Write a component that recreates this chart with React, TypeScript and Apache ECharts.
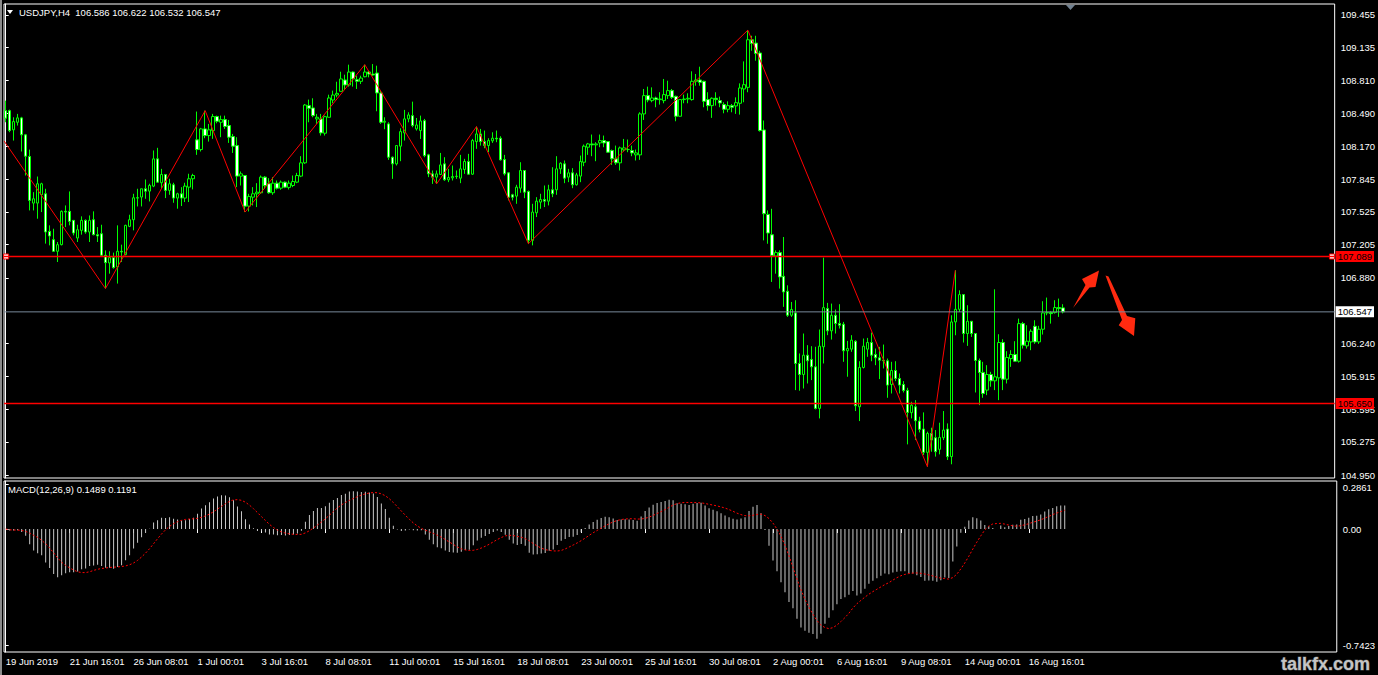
import React, { useEffect, useRef } from "react";
import * as echarts from "echarts";

// ---------- DATA (USDJPY H4) ----------
const opens = [
  108.517,108.517,108.329,108.403,108.446,108.280,108.068,107.612,107.612,107.693,
  107.703,107.335,107.254,107.140,107.205,107.531,107.531,107.443,107.270,107.345,
  107.443,107.329,107.449,107.303,107.312,107.101,107.026,107.078,106.987,107.140,
  107.107,107.384,107.449,107.664,107.671,107.752,107.729,107.778,108.045,107.811,
  107.892,107.736,107.791,107.661,107.703,107.661,107.768,107.850,108.231,108.136,
  108.338,108.273,108.322,108.459,108.403,108.429,108.371,108.263,108.175,107.876,
  107.882,107.582,107.670,107.703,107.713,107.866,107.801,107.713,107.807,107.758,
  107.817,107.765,107.784,107.817,107.876,108.006,108.566,108.543,108.436,108.436,
  108.296,108.452,108.621,108.670,108.706,108.817,108.768,108.895,108.820,108.804,
  108.849,108.895,108.875,108.885,108.690,108.403,108.387,108.061,107.996,108.169,
  108.299,108.436,108.468,108.338,108.322,108.419,108.084,107.898,107.866,107.892,
  107.996,107.840,107.859,107.872,107.856,107.941,108.019,107.895,108.214,108.289,
  108.214,108.175,108.221,108.247,108.247,108.038,107.908,107.693,107.680,107.758,
  107.931,107.726,107.247,107.517,107.621,107.647,107.631,107.742,107.742,107.947,
  107.996,107.866,107.908,107.791,107.876,108.012,108.159,108.191,108.182,108.201,
  108.224,108.214,108.126,108.045,108.006,108.133,108.136,108.126,108.084,108.084,
  108.485,108.664,108.615,108.641,108.625,108.615,108.664,108.713,108.657,108.462,
  108.625,108.631,108.625,108.804,108.817,108.804,108.625,108.566,108.638,108.615,
  108.576,108.530,108.566,108.563,108.589,108.729,108.745,109.211,109.178,109.081,
  108.328,107.501,107.302,107.094,107.127,106.895,106.749,106.514,106.537,106.042,
  105.934,106.123,106.081,106.009,105.602,106.205,106.579,106.361,106.514,106.433,
  106.426,106.166,106.182,106.260,105.618,106.003,106.182,106.247,106.130,106.097,
  106.074,106.068,105.836,105.973,105.895,105.836,105.778,105.560,105.618,105.478,
  105.400,105.172,105.357,105.315,105.201,105.315,105.400,105.130,106.449,106.572,
  106.716,106.335,106.455,106.335,106.071,105.954,105.781,105.934,105.872,105.901,
  106.247,105.888,106.090,106.130,106.064,106.432,106.214,106.253,106.406,106.253,
  106.377,106.537,106.540,106.540,106.589,106.586,
];
const highs = [
  108.615,108.527,108.452,108.485,108.456,108.289,108.136,107.719,107.872,107.811,
  107.752,107.394,107.361,107.231,107.540,107.589,107.726,107.443,107.400,107.482,
  107.452,107.491,107.531,107.377,107.400,107.149,107.140,107.127,107.394,107.205,
  107.400,107.498,107.703,107.752,107.752,107.843,107.801,108.127,108.153,107.947,
  107.892,107.850,107.811,107.713,107.768,107.811,107.899,107.899,108.508,108.348,
  108.517,108.387,108.485,108.468,108.468,108.468,108.426,108.289,108.257,107.921,
  107.882,107.703,107.768,107.807,107.882,107.876,107.856,107.866,107.833,107.833,
  107.823,107.833,107.882,107.908,108.071,108.582,108.625,108.638,108.485,108.485,
  108.468,108.673,108.713,108.800,108.898,108.869,108.967,108.901,108.859,108.859,
  108.967,108.908,108.973,108.957,108.713,108.452,108.403,108.068,108.175,108.344,
  108.524,108.501,108.605,108.445,108.468,108.436,108.094,107.931,107.931,108.103,
  108.061,107.947,107.980,107.931,108.084,108.045,108.094,108.240,108.361,108.338,
  108.322,108.247,108.305,108.322,108.266,108.084,107.915,107.703,107.791,108.012,
  107.931,107.735,107.605,107.670,107.703,107.784,107.791,107.963,108.071,108.012,
  108.029,107.947,107.954,107.908,108.077,108.185,108.201,108.283,108.208,108.283,
  108.273,108.214,108.136,108.175,108.165,108.240,108.234,108.175,108.136,108.501,
  108.729,108.752,108.745,108.654,108.697,108.827,108.810,108.729,108.664,108.625,
  108.674,108.687,108.902,108.876,108.947,108.810,108.697,108.647,108.697,108.654,
  108.599,108.608,108.582,108.647,108.784,108.999,109.305,109.250,109.250,109.103,
  108.420,107.540,107.556,107.149,107.149,107.280,106.807,106.644,106.661,106.140,
  106.335,106.221,106.211,106.205,106.374,107.078,106.635,106.628,106.570,106.622,
  106.449,106.263,106.319,106.270,106.064,106.286,106.292,106.344,106.188,106.204,
  106.227,106.090,106.058,106.064,105.944,105.869,105.804,105.667,105.683,105.520,
  105.563,105.374,105.413,105.390,105.462,105.576,105.455,106.514,106.954,106.758,
  106.716,106.612,106.455,106.335,106.090,106.058,106.025,105.960,106.768,106.328,
  106.279,106.162,106.172,106.260,106.481,106.449,106.416,106.377,106.465,106.410,
  106.651,106.687,106.553,106.661,106.677,106.622,
];
const lows = [
  108.403,108.306,108.224,108.371,108.117,107.882,107.540,107.540,107.459,107.524,
  107.215,107.198,107.133,107.035,107.198,107.377,107.394,107.296,107.231,107.303,
  107.312,107.231,107.296,107.231,107.084,106.775,106.921,106.970,106.824,107.035,
  107.101,107.377,107.345,107.579,107.579,107.654,107.628,107.768,107.811,107.759,
  107.661,107.693,107.615,107.557,107.583,107.622,107.622,107.746,108.084,108.117,
  108.247,108.214,108.241,108.393,108.257,108.338,108.201,108.103,107.768,107.784,
  107.524,107.530,107.589,107.573,107.703,107.752,107.703,107.693,107.745,107.742,
  107.758,107.745,107.768,107.807,107.866,107.996,108.403,108.452,108.387,108.273,
  108.273,108.452,108.589,108.647,108.706,108.719,108.752,108.752,108.729,108.778,
  108.843,108.843,108.859,108.511,108.387,108.335,108.035,107.849,107.980,108.022,
  108.224,108.403,108.354,108.322,108.240,108.061,107.866,107.800,107.800,107.888,
  107.830,107.817,107.833,107.849,107.807,107.898,107.888,107.888,108.143,108.175,
  108.149,108.110,108.201,108.208,108.029,107.882,107.638,107.638,107.605,107.713,
  107.660,107.214,107.198,107.475,107.556,107.573,107.589,107.670,107.693,107.898,
  107.807,107.817,107.758,107.784,107.817,107.973,108.084,108.071,108.022,108.159,
  108.159,108.103,107.986,107.986,107.931,108.117,108.110,108.071,108.029,108.035,
  108.426,108.599,108.599,108.550,108.576,108.589,108.631,108.631,108.413,108.459,
  108.589,108.589,108.615,108.761,108.761,108.550,108.517,108.446,108.566,108.550,
  108.491,108.501,108.501,108.485,108.478,108.599,108.697,109.103,109.006,108.312,
  107.247,107.214,106.840,106.921,106.775,106.596,106.498,106.498,105.781,105.775,
  105.797,105.846,105.879,105.592,105.504,106.042,106.319,106.276,106.335,106.384,
  106.058,105.912,106.156,105.576,105.478,105.993,106.107,106.064,106.025,105.889,
  105.993,105.706,105.748,105.869,105.748,105.758,105.250,105.504,105.292,105.367,
  105.146,105.032,105.178,105.130,105.152,105.292,105.097,105.055,106.318,106.546,
  106.247,106.214,106.302,105.758,105.634,105.706,105.732,105.814,105.781,105.683,
  105.781,105.846,106.009,106.058,106.051,106.188,106.188,106.172,106.234,106.234,
  106.325,106.514,106.432,106.530,106.498,106.532,
];
const closes = [
  108.443,108.322,108.410,108.446,108.280,108.071,107.638,107.654,107.801,107.801,
  107.329,107.290,107.140,107.205,107.531,107.524,107.433,107.319,107.351,107.443,
  107.329,107.443,107.303,107.290,107.101,107.029,107.078,106.980,107.140,107.133,
  107.394,107.449,107.664,107.661,107.752,107.729,107.785,108.045,107.817,107.892,
  107.736,107.801,107.661,107.703,107.661,107.778,107.850,107.882,108.136,108.338,
  108.273,108.329,108.459,108.413,108.429,108.361,108.257,108.169,107.876,107.898,
  107.582,107.677,107.703,107.719,107.866,107.784,107.713,107.807,107.758,107.817,
  107.768,107.807,107.823,107.882,108.006,108.572,108.540,108.468,108.452,108.299,
  108.458,108.641,108.670,108.686,108.827,108.768,108.895,108.827,108.804,108.836,
  108.895,108.875,108.866,108.690,108.403,108.413,108.061,107.996,108.175,108.312,
  108.436,108.475,108.371,108.377,108.416,108.077,107.898,107.866,107.898,107.986,
  107.840,107.862,107.872,107.875,107.947,108.019,107.895,108.224,108.289,108.214,
  108.175,108.224,108.247,108.240,108.035,107.898,107.670,107.670,107.768,107.931,
  107.719,107.247,107.524,107.631,107.647,107.631,107.742,107.703,107.947,108.002,
  107.856,107.908,107.791,107.888,108.019,108.169,108.191,108.182,108.191,108.224,
  108.201,108.110,108.045,108.006,108.152,108.152,108.136,108.103,108.103,108.485,
  108.664,108.621,108.641,108.625,108.631,108.674,108.713,108.647,108.462,108.625,
  108.631,108.638,108.804,108.817,108.794,108.608,108.566,108.638,108.625,108.592,
  108.530,108.566,108.550,108.595,108.739,108.771,109.211,109.175,109.077,108.322,
  107.508,107.319,107.100,107.127,106.889,106.742,106.514,106.570,106.042,105.934,
  106.123,106.068,106.009,105.602,106.211,106.589,106.361,106.514,106.433,106.416,
  106.166,106.188,106.270,105.628,106.003,106.211,106.247,106.123,106.097,106.074,
  106.068,105.830,105.973,105.895,105.830,105.778,105.563,105.634,105.481,105.397,
  105.172,105.357,105.292,105.178,105.318,105.390,105.130,106.449,106.572,106.716,
  106.335,106.455,106.335,106.071,105.954,105.748,105.934,105.872,105.911,106.247,
  105.888,106.100,106.130,106.064,106.432,106.221,106.260,106.357,106.253,106.377,
  106.537,106.540,106.530,106.589,106.579,106.547,
];

// ZigZag pivots (bar index + whether it is a high or a low); first point is the leg entering from the left
const zigzagStart = [-0.4, 108.22];
const zigzagBars = [25, 50, 60, 90, 108, 118, 131, 186, 231, 238];
const zigzagKinds = ["L", "H", "L", "H", "L", "H", "L", "H", "L", "H"];

// Horizontal levels
const resistanceLevel = 107.089;
const supportLevel = 105.650;
const bidPrice = 106.547;

// Axis tick labels (the 106.560 label is hidden under the bid box in the reference)
const priceTicks = [104.950, 105.275, 105.595, 105.915, 106.240, 106.880, 107.205, 107.525, 107.845, 108.170, 108.490, 108.810, 109.135, 109.455];
const macdTicks = [0.2861, 0, -0.7423];
const macdTickLabels = ["0.2861", "0.00", "-0.7423"];
const xTickBars = [0, 16, 32, 48, 64, 80, 96, 112, 128, 144, 160, 176, 192, 208, 224, 240, 256];
const xTickLabels = [
  "19 Jun 2019", "21 Jun 16:01", "26 Jun 08:01", "1 Jul 00:01", "3 Jul 16:01", "8 Jul 08:01",
  "11 Jul 00:01", "15 Jul 16:01", "18 Jul 08:01", "23 Jul 00:01", "25 Jul 16:01", "30 Jul 08:01",
  "2 Aug 00:01", "6 Aug 16:01", "9 Aug 08:01", "14 Aug 00:01", "16 Aug 16:01",
];
const symbolName = "USDJPY,H4";
const macdHeader = "MACD(12,26,9) 0.1489 0.1191";

// ---------- MACD(12,26,9) indicator computed from the closes ----------
function ema(src: number[], period: number): number[] {
  const k = 2 / (period + 1);
  const out: number[] = [];
  src.forEach((v, i) => out.push(i === 0 ? v : v * k + out[i - 1] * (1 - k)));
  return out;
}
const ema12 = ema(closes, 12);
const ema26 = ema(closes, 26);
const macdMain = closes.map((_, i) => ema12[i] - ema26[i]);
const macdSignal = macdMain.map((_, i) => {
  const w = macdMain.slice(Math.max(0, i - 8), i + 1);
  return w.reduce((a, b) => a + b, 0) / w.length;
});

const FONT = '"Liberation Sans", Arial, sans-serif';
const FS = 9.5;

export default function App() {
  const ref = useRef<HTMLDivElement>(null);
  useEffect(() => {
    const el = ref.current;
    if (!el) return;
    const chart = echarts.init(el, null, { renderer: "svg" });

    const candleData = closes.map((c, i) => [i, opens[i], c, lows[i], highs[i]]);
    const zigzagData = [zigzagStart].concat(
      zigzagBars.map((b, k) => [b, zigzagKinds[k] === "H" ? highs[b] : lows[b]])
    );
    const last = closes.length - 1;
    const header = `${symbolName}  ${opens[last].toFixed(3)} ${highs[last].toFixed(3)} ${lows[last].toFixed(3)} ${closes[last].toFixed(3)}`;

    const nearestIdx = (arr: number[], v: number) => {
      let best = 0;
      arr.forEach((a, i) => { if (Math.abs(a - v) < Math.abs(arr[best] - v)) best = i; });
      return best;
    };

    const X_MIN = -0.425, X_MAX = 333.075;

    const levelSeries = (value: number, lineColor: string, lineWidth: number, boxColor: string, textColor: string, handles: boolean) => ({
      type: "line", xAxisIndex: 0, yAxisIndex: 0, silent: true, z: 6,
      data: [[X_MIN, value], [X_MAX, value]],
      symbol: "none", showSymbol: false, clip: false,
      color: lineColor,
      itemStyle: { color: lineColor },
      lineStyle: { color: lineColor, width: lineWidth, type: "solid", opacity: 1 },
      emphasis: { disabled: true },
      endLabel: {
        show: true, distance: 1, formatter: () => value.toFixed(3),
        backgroundColor: boxColor, color: textColor, fontSize: FS, fontFamily: FONT,
        padding: [1, 2, 0, 2],
      },
      markPoint: handles ? {
        silent: true, symbol: "rect", symbolSize: 5,
        itemStyle: { color: "#ffffff", borderColor: lineColor, borderWidth: 1 },
        label: { show: false },
        data: [{ coord: [0.1, value] }, { coord: [332.4, value] }],
      } : undefined,
    });

    const option: any = {
      animation: false,
      backgroundColor: "#000000",
      textStyle: { fontFamily: FONT },
      grid: [
        { left: 4, right: 40, top: 4, height: 474, show: true, borderColor: "#ffffff", borderWidth: 1, backgroundColor: "#000000" },
        { left: 4, right: 40, top: 481, height: 171, show: true, borderColor: "#ffffff", borderWidth: 1, backgroundColor: "#000000" },
      ],
      xAxis: [
        { type: "value", gridIndex: 0, min: X_MIN, max: X_MAX, show: false },
        {
          type: "value", gridIndex: 1, min: X_MIN, max: X_MAX,
          axisLine: { show: false }, splitLine: { show: false },
          axisTick: { show: true, customValues: xTickBars, length: 4, lineStyle: { color: "#ffffff" } },
          axisLabel: {
            customValues: xTickBars, align: "left", color: "#ffffff", fontSize: FS, fontFamily: FONT, margin: 4,
            formatter: (v: number) => xTickLabels[nearestIdx(xTickBars, v)],
          },
        },
      ],
      yAxis: [
        {
          type: "value", gridIndex: 0, position: "right", min: 104.9207, max: 109.5609, scale: true,
          splitLine: { show: false },
          axisLine: { show: true, lineStyle: { color: "#ffffff" } },
          axisTick: { show: true, customValues: priceTicks, length: 3, lineStyle: { color: "#ffffff" } },
          axisLabel: {
            customValues: priceTicks, color: "#ffffff", fontSize: FS, fontFamily: FONT, margin: 6,
            formatter: (v: number) => priceTicks[nearestIdx(priceTicks, v)].toFixed(3),
          },
        },
        {
          type: "value", gridIndex: 1, position: "right", min: -0.783, max: 0.3057, scale: true,
          splitLine: { show: false },
          axisLine: { show: true, lineStyle: { color: "#ffffff" } },
          axisTick: { show: true, customValues: macdTicks, length: 3, lineStyle: { color: "#ffffff" } },
          axisLabel: {
            customValues: macdTicks, color: "#ffffff", fontSize: FS, fontFamily: FONT, margin: 6,
            formatter: (v: number) => {
              const i = nearestIdx(macdTicks, v);
              return i === 0 ? `{t|${macdTickLabels[i]}}` : `{n|${macdTickLabels[i]}}`;
            },
            rich: {
              t: { padding: [6, 0, 0, 0], color: "#ffffff", fontSize: FS, fontFamily: FONT },
              n: { color: "#ffffff", fontSize: FS, fontFamily: FONT },
            },
          },
        },
      ],
      series: [
        {
          type: "candlestick", xAxisIndex: 0, yAxisIndex: 0, silent: true,
          data: candleData, encode: { x: 0, y: [1, 2, 3, 4] },
          barWidth: 3,
          itemStyle: { color: "#000000", color0: "#ffffff", borderColor: "#00ff00", borderColor0: "#00ff00", borderWidth: 1 },
          z: 3,
        },
        levelSeries(supportLevel, "#ff0000", 1.6, "#ff0000", "#000000", false),
        levelSeries(bidPrice, "#778899", 1, "#ffffff", "#000000", false),
        levelSeries(resistanceLevel, "#ff0000", 1.6, "#ff0000", "#000000", true),
        {
          type: "line", xAxisIndex: 0, yAxisIndex: 0, silent: true,
          data: zigzagData, symbol: "none",
          lineStyle: { color: "#ff0000", width: 1 },
          z: 4,
        },
        {
          type: "bar", xAxisIndex: 1, yAxisIndex: 1, silent: true,
          data: macdMain.map((v, i) => [i, v]), barWidth: 1,
          itemStyle: { color: "#c8c8c8" },
        },
        {
          type: "line", xAxisIndex: 1, yAxisIndex: 1, silent: true,
          data: macdSignal.map((v, i) => [i, v]), symbol: "none",
          lineStyle: { color: "#ff0000", width: 1, type: [2, 2] },
          z: 4,
        },
      ],
      graphic: [
        { type: "rect", shape: { x: 0, y: 0, width: 2, height: 675 }, style: { fill: "#8c8c8c" }, silent: true },
        { type: "polygon", shape: { points: [[7, 10], [13, 10], [10, 14]] }, style: { fill: "#ffffff" }, silent: true },
        {
          type: "text", x: 19, y: 12, silent: true,
          style: { text: header, fill: "#ffffff", font: `${FS}px ${FONT}`, align: "left", verticalAlign: "middle", textAlign: "left", textVerticalAlign: "middle" },
        },
        {
          type: "text", x: 8, y: 489, silent: true,
          style: { text: macdHeader, fill: "#ffffff", font: `${FS}px ${FONT}`, align: "left", verticalAlign: "middle", textAlign: "left", textVerticalAlign: "middle" },
        },
        { type: "polygon", shape: { points: [[1066, 5], [1075, 5], [1070.5, 10]] }, style: { fill: "#708090" }, silent: true },
        {
          type: "polygon", silent: true,
          shape: { points: [[1073, 308], [1085.5, 285], [1082, 279], [1099, 270.5], [1095.5, 287], [1089.5, 287.5]] },
          style: { fill: "#ff2a10" },
        },
        {
          type: "polygon", silent: true,
          shape: { points: [[1105.5, 275.5], [1108.5, 276.5], [1127, 316], [1135.3, 318.3], [1134, 336], [1118.7, 325.3], [1122, 320]] },
          style: { fill: "#ff2a10" },
        },
        {
          type: "text", x: 1281, y: 664, silent: true,
          style: { text: "talkfx.com", fill: "#c4c4c4", stroke: "#4a4a4a", lineWidth: 1, font: `bold 18px ${FONT}`, align: "left", verticalAlign: "middle", textAlign: "left", textVerticalAlign: "middle" },
        },
      ],
    };

    chart.setOption(option);
    return () => chart.dispose();
  }, []);

  return (
    <div
      ref={ref}
      style={{ position: "fixed", left: 0, top: 0, width: 1378, height: 675, background: "#000000" }}
    />
  );
}
